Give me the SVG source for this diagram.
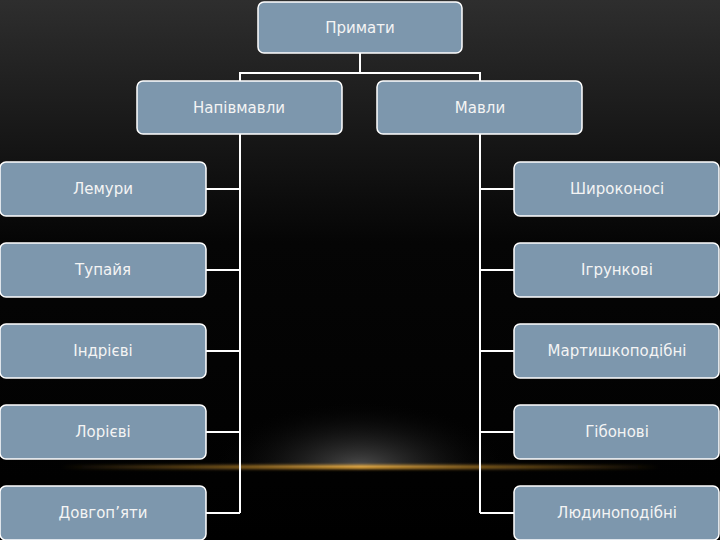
<svg xmlns="http://www.w3.org/2000/svg" width="720" height="540" viewBox="0 0 720 540">
<defs>
<linearGradient id="bg" x1="0" y1="0" x2="0" y2="1">
<stop offset="0" stop-color="#2e2e2e"/>
<stop offset="0.45" stop-color="#050505"/>
<stop offset="1" stop-color="#000"/>
</linearGradient>
<radialGradient id="glow" cx="360" cy="467" r="150" gradientUnits="userSpaceOnUse" gradientTransform="translate(0,467) scale(1,0.45) translate(0,-467)">
<stop offset="0" stop-color="#4e4e4e"/>
<stop offset="1" stop-color="#000" stop-opacity="0"/>
</radialGradient>
<linearGradient id="line" x1="0" y1="0" x2="1" y2="0">
<stop offset="0" stop-color="#d89a30" stop-opacity="0"/>
<stop offset="0.3" stop-color="#d89a30" stop-opacity="0.6"/>
<stop offset="0.5" stop-color="#f0b040"/>
<stop offset="0.7" stop-color="#d89a30" stop-opacity="0.6"/>
<stop offset="1" stop-color="#d89a30" stop-opacity="0"/>
</linearGradient>
<filter id="blur" x="-10%" y="-300%" width="120%" height="700%"><feGaussianBlur stdDeviation="1.5"/></filter>
</defs>
<style>
.box{fill:#7d97ad;stroke:#fff;stroke-width:1.5}
.lbl{font-family:"DejaVu Sans","Liberation Sans",sans-serif;font-size:15px;fill:#f4f4f4;text-anchor:middle;dominant-baseline:central}
.con{stroke:#fff;stroke-width:2;fill:none}
</style>
<rect width="720" height="540" fill="url(#bg)"/>
<rect x="0" y="380" width="720" height="87" fill="url(#glow)"/>
<rect x="60" y="465" width="600" height="4" fill="url(#line)" filter="url(#blur)"/>
<g id="connectors">
<path class="con" d="M360 53V73M240 81V73H480V81"/>
<path class="con" d="M240 134V513M240 189H206M240 270H206M240 351H206M240 432H206M240 513H206"/>
<path class="con" d="M480 134V513M480 189H514M480 270H514M480 351H514M480 432H514M480 513H514"/>
</g>
<g id="n-root"><rect class="box" x="258" y="2" width="204" height="51" rx="6"/><text class="lbl" x="360" y="28">Примати</text></g>
<g id="n-prosimians"><rect class="box" x="137" y="81" width="205" height="53" rx="6"/><text class="lbl" x="239" y="108">Напівмавли</text></g>
<g id="n-monkeys"><rect class="box" x="377" y="81" width="205" height="53" rx="6"/><text class="lbl" x="480" y="108">Мавли</text></g>
<g id="n-l1"><rect class="box" x="0" y="162" width="206" height="54" rx="6"/><text class="lbl" x="103" y="189">Лемури</text></g>
<g id="n-l2"><rect class="box" x="0" y="243" width="206" height="54" rx="6"/><text class="lbl" x="103" y="270">Тупайя</text></g>
<g id="n-l3"><rect class="box" x="0" y="324" width="206" height="54" rx="6"/><text class="lbl" x="103" y="351">Індрієві</text></g>
<g id="n-l4"><rect class="box" x="0" y="405" width="206" height="54" rx="6"/><text class="lbl" x="103" y="432">Лорієві</text></g>
<g id="n-l5"><rect class="box" x="0" y="486" width="206" height="54" rx="6"/><text class="lbl" x="103" y="513">Довгоп’яти</text></g>
<g id="n-r1"><rect class="box" x="514" y="162" width="205" height="54" rx="6"/><text class="lbl" x="617" y="189">Широконосі</text></g>
<g id="n-r2"><rect class="box" x="514" y="243" width="205" height="54" rx="6"/><text class="lbl" x="617" y="270">Ігрункові</text></g>
<g id="n-r3"><rect class="box" x="514" y="324" width="205" height="54" rx="6"/><text class="lbl" x="617" y="351">Мартишкоподібні</text></g>
<g id="n-r4"><rect class="box" x="514" y="405" width="205" height="54" rx="6"/><text class="lbl" x="617" y="432">Гібонові</text></g>
<g id="n-r5"><rect class="box" x="514" y="486" width="205" height="54" rx="6"/><text class="lbl" x="617" y="513">Людиноподібні</text></g>
</svg>
